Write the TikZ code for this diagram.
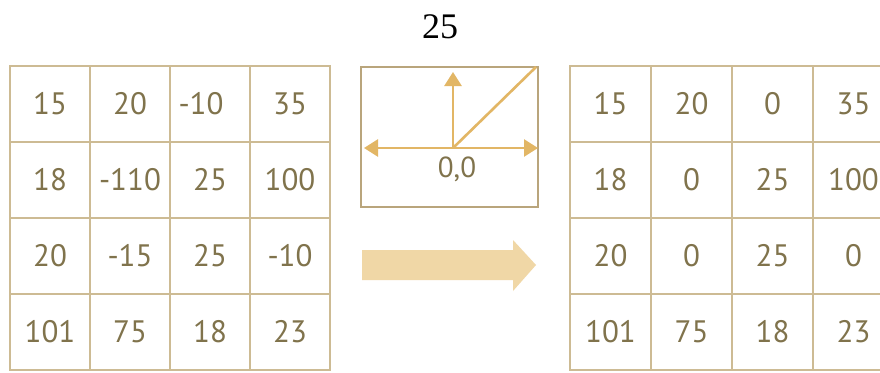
\documentclass[tikz,border=0pt]{standalone}
\usepackage{fontspec}
\setmainfont{Liberation Serif}
\newfontfamily\cellfont{PT Sans}
\usetikzlibrary{arrows.meta}
\definecolor{gridc}{HTML}{CDBB94}
\definecolor{txtc}{HTML}{80734C}
\definecolor{boxc}{HTML}{B9A57C}
\definecolor{axc}{HTML}{E2B665}
\definecolor{bigarr}{HTML}{F0D7A6}
\tikzset{
  cell/.style={draw=gridc, line width=1.8pt, minimum width=#1, minimum height=76pt, inner sep=0pt, font=\cellfont\fontsize{31}{31}\selectfont, text=txtc},
  axis/.style={draw=axc, line width=2.6pt, -{Triangle[length=14pt,width=17pt]}},
}
\begin{document}
\begin{tikzpicture}[x=1pt,y=-1pt]
\useasboundingbox (0,0) rectangle (880,372);
\fill[white] (0,0) rectangle (880,372);
\clip (0,0) rectangle (880,372);
\node[font=\fontsize{36}{36}\selectfont] (title) at (440,27) {25};
% left grid
\foreach \r/\a/\b/\c/\d [count=\i] in {0/15/20/-10\hspace*{18pt}/35, 1/18/-110/25/100, 2/20/-15/25/-10, 3/101/75/18/23}{
  \node[cell=80pt] (L\i a) at (50,104+76*\r) {\a};
  \node[cell=80pt] (L\i b) at (130,104+76*\r) {\b};
  \node[cell=80pt] (L\i c) at (210,104+76*\r) {\c};
  \node[cell=80pt] (L\i d) at (290,104+76*\r) {\d};
}
% right grid
\foreach \r/\a/\b/\c/\d [count=\i] in {0/15/20/0/35, 1/18/0/25/100, 2/20/0/25/0, 3/101/75/18/23}{
  \node[cell=81pt] (R\i a) at (610.5,104+76*\r) {\a};
  \node[cell=81pt] (R\i b) at (691.5,104+76*\r) {\b};
  \node[cell=81pt] (R\i c) at (772.5,104+76*\r) {\c};
  \node[cell=81pt] (R\i d) at (853.5,104+76*\r) {\d};
}
% middle function box
\node[draw=boxc, line width=1.8pt, minimum width=177pt, minimum height=140pt, inner sep=0pt] (fbox) at (449.5,137) {};
\coordinate (o) at (453,148);
\coordinate (xl) at (364,148);
\coordinate (xr) at (538,148);
\coordinate (yt) at (453,72);
\coordinate (dg) at (536,67);
\draw[axis] (o) -- (xl);
\draw[axis] (o) -- (xr);
\draw[axis] (o) -- (yt);
\draw[draw=axc, line width=2.6pt] (o) -- (dg);
\node[font=\cellfont\fontsize{29}{29}\selectfont, text=txtc] (lab) at (457,169) {0,0};
% big arrow
\fill[bigarr] (362,250) -- (513,250) -- (513,240) -- (536,265) -- (513,291) -- (513,280) -- (362,280) -- cycle;
\end{tikzpicture}
\end{document}
